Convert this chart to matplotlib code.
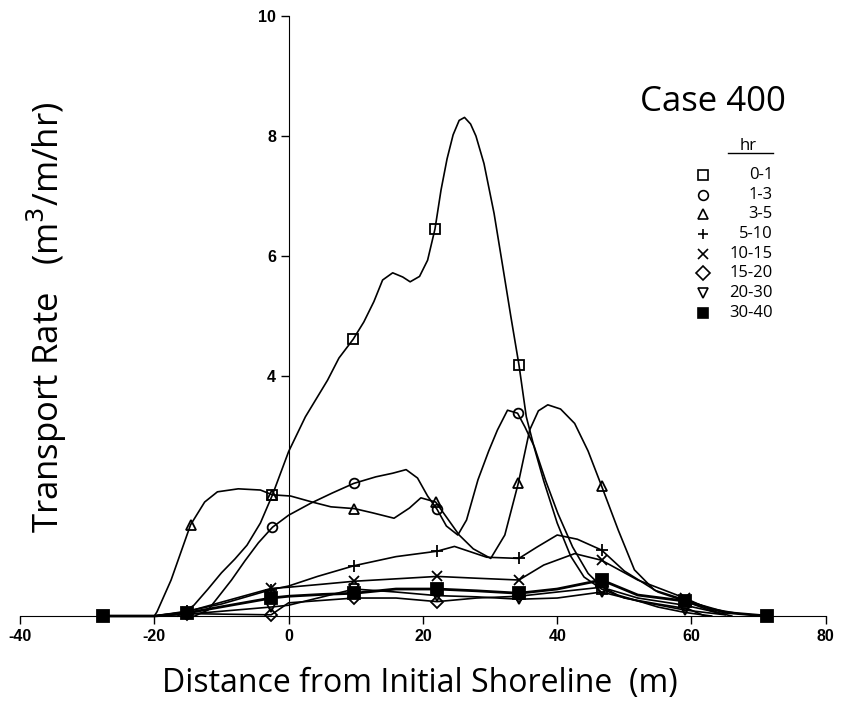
import matplotlib.pyplot as plt
from matplotlib.lines import Line2D

plt.rcParams['axes.unicode_minus'] = False

# read-off points for each duration curve (x in m, y in m3/m/hr)
x_0_1 = [-16.5, -14.1, -12, -10, -8, -6.2, -4.2, -2.4, 0, 2.5, 5.8, 7.5, 9.6, 11.2, 12.7, 14, 15.5, 17,
         18.1, 19.5, 20.7, 21.8, 22.7, 23.6, 24.5, 25.4, 26.2, 27.1, 27.9, 29.1, 30.6, 31.9, 33.1, 34.3,
         35.4, 36.6, 38, 40, 42, 44, 46.6, 50, 55, 59.5, 62]
y_0_1 = [0, 0.18, 0.45, 0.72, 0.95, 1.18, 1.55, 2.02, 2.74, 3.32, 3.93, 4.3, 4.61, 4.9, 5.24, 5.6, 5.72,
         5.65, 5.57, 5.66, 5.93, 6.45, 7.1, 7.62, 8.02, 8.26, 8.31, 8.2, 8.0, 7.54, 6.71, 5.82, 4.99,
         4.19, 3.32, 2.8, 2.25, 1.55, 1.0, 0.65, 0.45, 0.3, 0.2, 0.12, 0]
mk_0_1 = [7, 12, 21, 33, 40]

x_1_3 = [-14, -12, -10.6, -8.5, -6.5, -4.5, -2.4, 0, 3.3, 6.5, 9.7, 13, 15.5, 17.5, 19.2, 20.7, 22.1,
         23.5, 25.2, 26.5, 28.2, 29.8, 31.1, 32.6, 34.1, 35.2, 36.6, 38.3, 40.1, 42.3, 44.6, 46.6, 49,
         51.5, 55, 59, 63]
y_1_3 = [0, 0.1, 0.3, 0.6, 0.92, 1.22, 1.48, 1.68, 1.88, 2.05, 2.21, 2.32, 2.38, 2.44, 2.3, 2.0, 1.78,
         1.5, 1.35, 1.6, 2.27, 2.75, 3.1, 3.43, 3.38, 3.15, 2.82, 2.25, 1.71, 1.15, 0.71, 0.49, 0.35,
         0.27, 0.15, 0.06, 0]
mk_1_3 = [6, 10, 16, 24]

x_3_5 = [-20, -19.6, -17.5, -14.6, -12.5, -10.6, -7.5, -4.2, -2.4, 0.3, 3.5, 6.3, 9.8, 12.5, 15.7, 18,
         19.7, 21.9, 23.5, 25.4, 27.5, 30.1, 32.2, 34.2, 35.9, 37.2, 38.6, 40.5, 42.6, 44.6, 46.6, 49.1,
         51.5, 54.5, 59, 63, 67, 71]
y_3_5 = [0, 0.07, 0.6, 1.52, 1.9, 2.07, 2.12, 2.1, 2.02, 2.0, 1.9, 1.82, 1.79, 1.72, 1.63, 1.8, 1.97,
         1.9, 1.65, 1.35, 1.12, 0.96, 1.35, 2.21, 3.1, 3.42, 3.52, 3.45, 3.21, 2.75, 2.17, 1.43, 0.77,
         0.43, 0.27, 0.12, 0.04, 0]
mk_3_5 = [3, 8, 12, 17, 23, 30]

x_5_10 = [-20, -15.2, -10, -2.6, 0, 4.3, 9.8, 16, 22.1, 24.7, 29.5, 34.3, 37, 40, 43, 46.6, 50, 55, 59,
          63, 66]
y_5_10 = [0, 0.08, 0.2, 0.44, 0.5, 0.66, 0.84, 0.99, 1.08, 1.16, 0.98, 0.96, 1.15, 1.35, 1.28, 1.1,
          0.75, 0.4, 0.25, 0.08, 0]
mk_5_10 = [1, 3, 6, 8, 11, 15, 18]

x_10_15 = [-20, -15.2, -2.6, 0, 5, 9.8, 16, 22.1, 28, 34.3, 38, 42.6, 46.6, 52, 59, 64]
y_10_15 = [0, 0.07, 0.46, 0.48, 0.53, 0.58, 0.62, 0.66, 0.63, 0.6, 0.85, 1.04, 0.93, 0.6, 0.3, 0.05]
mk_10_15 = [1, 2, 5, 7, 9, 12, 14]

x_15_20 = [-20, -15.2, -2.6, 0, 9.8, 16, 22.1, 28, 34.3, 40, 46.6, 52, 59, 65]
y_15_20 = [0, 0.04, 0.02, 0.22, 0.3, 0.3, 0.24, 0.3, 0.33, 0.4, 0.48, 0.3, 0.18, 0.03]
mk_15_20 = [1, 2, 4, 6, 8, 10, 12]

x_20_30 = [-20, -15.2, -2.6, 0, 9.8, 16, 22.1, 28, 34.3, 40, 46.6, 52, 59, 65]
y_20_30 = [0, 0.03, 0.15, 0.18, 0.45, 0.4, 0.34, 0.32, 0.28, 0.3, 0.4, 0.25, 0.1, 0.02]
mk_20_30 = [1, 2, 4, 6, 8, 10, 12]

x_30_40 = [-27.6, -20, -15.2, -2.6, 0, 5, 9.8, 16, 22.1, 28, 34.3, 40, 46.6, 52, 59, 65, 71.3]
y_30_40 = [0, 0.0, 0.05, 0.3, 0.33, 0.36, 0.38, 0.45, 0.45, 0.42, 0.38, 0.45, 0.6, 0.35, 0.25, 0.06, 0]
mk_30_40 = [0, 2, 3, 6, 8, 10, 12, 14, 16]

durations = ['0-1', '1-3', '3-5', '5-10', '10-15', '15-20', '20-30', '30-40']
curves = [(x_0_1, y_0_1, mk_0_1), (x_1_3, y_1_3, mk_1_3), (x_3_5, y_3_5, mk_3_5),
          (x_5_10, y_5_10, mk_5_10), (x_10_15, y_10_15, mk_10_15), (x_15_20, y_15_20, mk_15_20),
          (x_20_30, y_20_30, mk_20_30), (x_30_40, y_30_40, mk_30_40)]
markers = ['s', 'o', '^', '+', 'x', 'D', 'v', 's']
msizes = [7, 7, 7, 9, 7, 6, 7, 8]
fills = ['none'] * 7 + ['black']
lwidths = [1.2] * 7 + [2.0]

label_font = 'Open Sans'

fig = plt.figure(figsize=(8.42, 7.05), dpi=100)
ax = fig.add_axes([0.02375, 0.1262, 0.957, 0.8511])

for (xs, ys, mk), m, ms, fc, lw in zip(curves, markers, msizes, fills, lwidths):
    ax.plot(xs, ys, '-', color='black', lw=lw, marker=m, ms=ms, mfc=fc, mec='black',
            mew=1.3, markevery=mk, clip_on=False)

ax.set_xlim(-40, 80)
ax.set_ylim(0, 10)
ax.spines['left'].set_position(('data', 0))
ax.spines['bottom'].set_position(('data', 0))
ax.spines['top'].set_visible(False)
ax.spines['right'].set_visible(False)
ax.set_xticks([-40, -20, 0, 20, 40, 60, 80])
ax.set_yticks([4, 6, 8, 10])
ax.tick_params(direction='out', length=6, width=1, labelsize=11.5, pad=3)
for lab in ax.get_xticklabels() + ax.get_yticklabels():
    lab.set_fontfamily('Liberation Sans')
    lab.set_fontweight('bold')

fig.text(0.4988, 0.0312, 'Distance from Initial Shoreline  (m)', ha='center', va='center',
         fontsize=23, family=label_font)
fig.text(0.0558, 0.55, 'Transport Rate   (m$^3$/m/hr)', ha='center', va='center',
         rotation=90, fontsize=25, family=label_font)

# legend block
fig.text(0.847, 0.855, 'Case 400', ha='center', va='center', fontsize=25, family=label_font)
fig.text(0.888, 0.7935, 'hr', ha='center', va='center', fontsize=12, family=label_font)
fig.add_artist(Line2D([0.865, 0.918], [0.783, 0.783], color='black', lw=1,
                      transform=fig.transFigure))
leg_top, leg_step = 0.7518, 0.0279
for i, (lab, m, fc) in enumerate(zip(durations, markers, fills)):
    yy = leg_top - i * leg_step
    fig.add_artist(Line2D([0.835], [yy], marker=m, ms=7, mfc=fc, mec='black', mew=1.2,
                          ls='none', transform=fig.transFigure))
    fig.text(0.918, yy, lab, ha='right', va='center', fontsize=12, family=label_font)

fig.savefig('out.png', dpi=100)
